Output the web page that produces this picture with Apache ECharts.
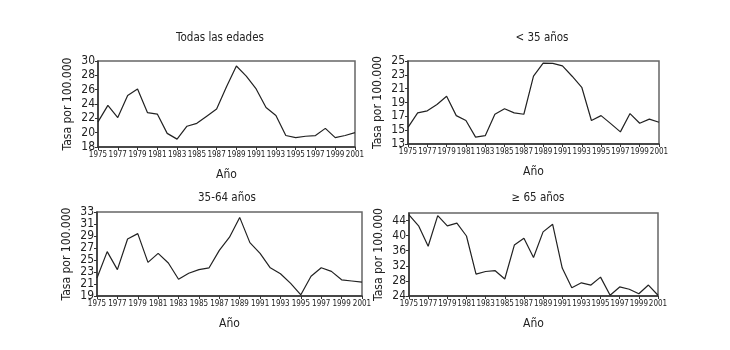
<!DOCTYPE html>
<html>
<head>
<meta charset="utf-8">
<script src="https://cdn.jsdelivr.net/npm/echarts@6/dist/echarts.min.js"></script>
<style>
  body { margin: 0; background: #fff; }
  #chart { width: 730px; height: 350px; }
</style>
</head>
<body>
<div id="chart"></div>
<script>
// datos
const years = [1975,1976,1977,1978,1979,1980,1981,1982,1983,1984,1985,1986,1987,1988,
  1989,1990,1991,1992,1993,1994,1995,1996,1997,1998,1999,2000,2001];
const panelTitles = ['Todas las edades', '< 35 años', '35-64 años', '≥ 65 años'];
const todas = [21.5,23.8,22.1,25.2,26.1,22.8,22.6,19.9,19.1,20.9,21.3,22.3,23.3,26.4,
  29.3,27.9,26.1,23.5,22.4,19.6,19.3,19.5,19.6,20.6,19.3,19.6,20.0];
const menos35 = [15.4,17.5,17.8,18.7,19.9,17.1,16.4,14.0,14.2,17.3,18.1,17.5,17.3,22.8,
  24.7,24.65,24.3,22.8,21.2,16.4,17.1,15.95,14.75,17.4,16.0,16.6,16.15];
const de35a64 = [22.0,26.4,23.4,28.5,29.4,24.6,26.1,24.5,21.8,22.8,23.4,23.7,26.6,28.8,
  32.1,27.9,26.1,23.7,22.7,21.1,19.2,22.3,23.7,23.1,21.7,21.5,21.3];
const mas65 = [45.5,42.6,37.2,45.3,42.6,43.3,39.9,29.8,30.5,30.7,28.5,37.5,39.3,34.2,
  41.0,43.0,31.4,26.2,27.5,26.9,29.0,24.2,26.4,25.8,24.6,26.9,24.2];
const yRanges = [[18, 30, 2], [13, 25, 2], [19, 33, 2], [24, 46, 4]];

const font = '"Liberation Sans Narrow", "DejaVu Sans Condensed", sans-serif';
const grids = [
  { left: 98, top: 61, width: 257, height: 86 },
  { left: 408, top: 61, width: 251, height: 83 },
  { left: 97, top: 212, width: 265, height: 84 },
  { left: 409, top: 213, width: 249, height: 83 }
];
const titlePos = [[215, 27], [537, 27], [222, 187], [533, 187]];
const allData = [todas, menos35, de35a64, mas65];

let myChart = echarts.init(document.getElementById('chart'));

const xAxes = [], yAxes = [], series = [], titles = [];
for (let i = 0; i < 4; i++) {
  titles.push({
    text: panelTitles[i], left: titlePos[i][0], top: titlePos[i][1], textAlign: 'center',
    textStyle: { fontFamily: font, fontSize: 11.5, fontWeight: 'normal', color: '#222' }
  });
  xAxes.push({
    type: 'value', gridIndex: i, min: 1975, max: 2001, interval: 2,
    name: 'Año', nameLocation: 'middle', nameGap: 22,
    nameTextStyle: { fontFamily: font, fontSize: 12, color: '#222' },
    axisLine: { lineStyle: { color: '#333', width: 1.5 } },
    axisTick: { length: 3, lineStyle: { color: '#333' } },
    axisLabel: { fontFamily: font, fontSize: 8, color: '#222', margin: 4,
      showMinLabel: true, showMaxLabel: true, formatter: v => String(v) },
    splitLine: { show: false }
  });
  const r = yRanges[i];
  yAxes.push({
    type: 'value', gridIndex: i, min: r[0], max: r[1], interval: r[2],
    name: 'Tasa por 100.000', nameLocation: 'middle', nameGap: 24,
    nameTextStyle: { fontFamily: font, fontSize: 12, color: '#222' },
    axisLine: { lineStyle: { color: '#333', width: 1.5 } },
    axisTick: { length: 3, lineStyle: { color: '#333' } },
    axisLabel: { fontFamily: font, fontSize: 12, color: '#222', margin: 3,
      showMaxLabel: i !== 3 },
    splitLine: { show: false }
  });
  series.push({
    type: 'line', xAxisIndex: i, yAxisIndex: i, showSymbol: false, symbol: 'none',
    lineStyle: { color: '#222', width: 1.2 },
    data: years.map((y, k) => [y, allData[i][k]])
  });
}

myChart.setOption({
  backgroundColor: '#fff',
  animation: false,
  title: titles,
  grid: grids.map(g => Object.assign({ show: true, borderColor: '#666', borderWidth: 1.5 }, g)),
  xAxis: xAxes,
  yAxis: yAxes,
  series: series
});
</script>
</body>
</html>
